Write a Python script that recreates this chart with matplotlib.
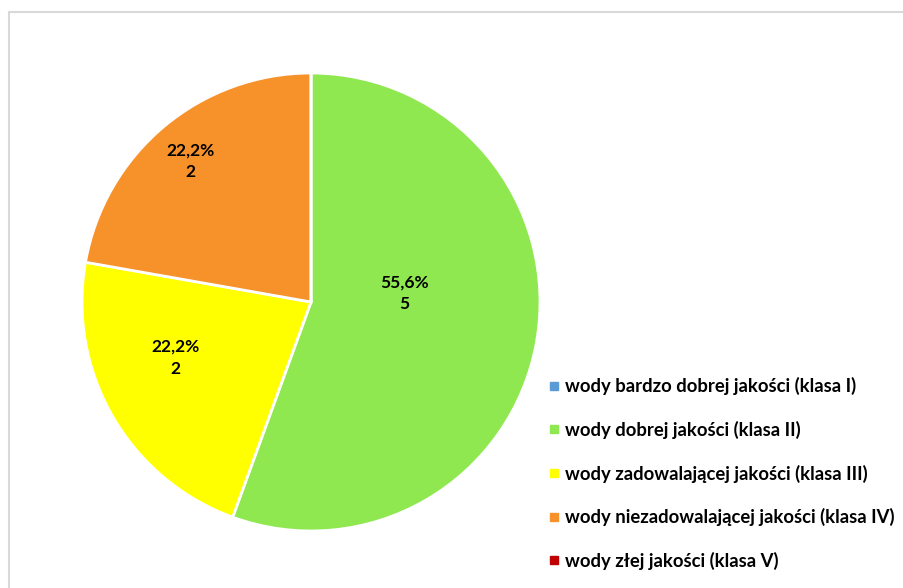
import numpy as np
import matplotlib.pyplot as plt
from matplotlib.patches import Rectangle
from matplotlib.lines import Line2D

plt.rcParams['font.family'] = ['Lato', 'DejaVu Sans']

categories = [
    "wody bardzo dobrej jakości (klasa I)",
    "wody dobrej jakości (klasa II)",
    "wody zadowalającej jakości (klasa III)",
    "wody niezadowalającej jakości (klasa IV)",
    "wody złej jakości (klasa V)",
]
counts = [0, 5, 2, 2, 0]
colors = ["#5B9BD5", "#8FE84F", "#FFFF00", "#F7922A", "#C00000"]
# data label placement: fraction of radius, angle shift from wedge middle (deg)
label_dist = [0.5, 0.41, 0.64, 0.81, 0.5]
label_shift = [0, 15.5, -7.6, 0.6, 0]

fig = plt.figure(figsize=(9.04, 5.88), dpi=100)
fig.patches.append(Rectangle((9 / 904, -0.1), 1.2, 0.1 + (588 - 12) / 588,
                             transform=fig.transFigure, fill=False,
                             edgecolor="#D9D9D9", linewidth=1.5, zorder=0))

ax = fig.add_axes([(311 - 229) / 904, (588 - 531) / 588, 458 / 904, 458 / 588])
wedges, _ = ax.pie(counts, colors=colors, startangle=90, counterclock=False,
                   radius=1.0, wedgeprops=dict(edgecolor="white", linewidth=2))
ax.set_xlim(-1, 1)
ax.set_ylim(-1, 1)
ax.set_aspect("equal")

total = sum(counts)
for w, c, d, s in zip(wedges, counts, label_dist, label_shift):
    if c == 0:
        continue
    mid = np.deg2rad((w.theta1 + w.theta2) / 2 + s)
    pct = f"{100 * c / total:.1f}".replace(".", ",") + "%"
    ax.text(d * np.cos(mid), d * np.sin(mid), f"{pct}\n{c}", ha="center",
            va="center", fontsize=12.5, fontweight="bold", color="black",
            linespacing=1.45)

handles = [Line2D([], [], marker="s", linestyle="none", markersize=6,
                  markerfacecolor=col, markeredgecolor=col) for col in colors]
fig.legend(handles, categories, loc="upper left", bbox_to_anchor=(540 / 904, 1 - 368 / 588),
           frameon=False, prop=dict(size=13.3, weight="bold"), handlelength=0.5,
           handletextpad=0.35, labelspacing=1.38, borderpad=0)

fig.savefig("out.png", dpi=100)
